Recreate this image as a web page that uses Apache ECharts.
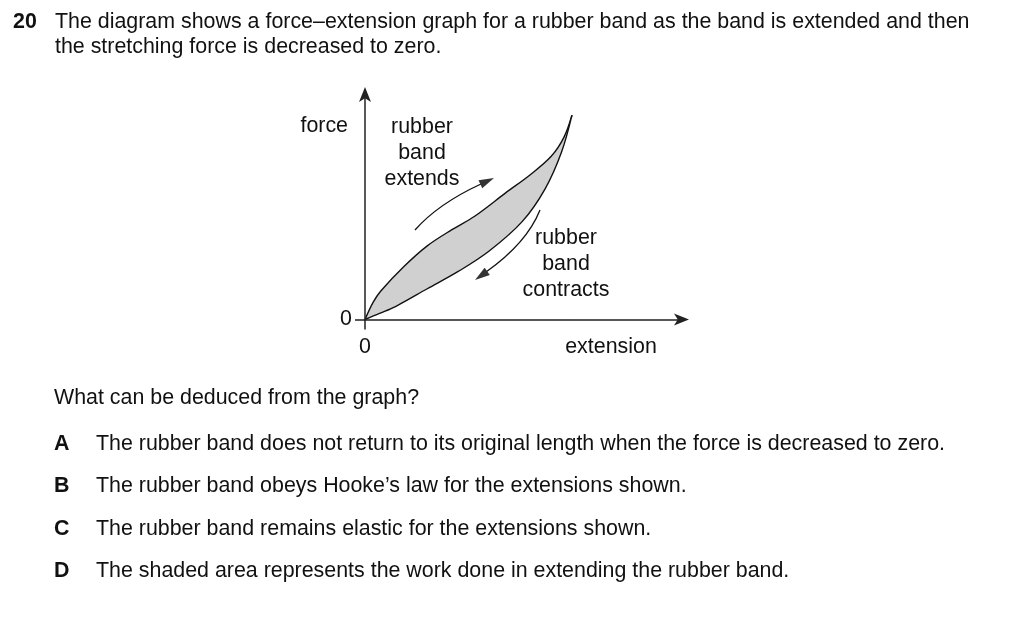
<!DOCTYPE html>
<html>
<head>
<meta charset="utf-8">
<script src="https://cdn.jsdelivr.net/npm/echarts@6/dist/echarts.min.js"></script>
<style>
  html, body { margin: 0; padding: 0; background: #fff; }
  #chart { width: 1024px; height: 618px; }
</style>
</head>
<body>
<div id="chart"></div>
<script>
// ---- data (arbitrary units: extension 0..100, force 0..100) ----
const extendExtension = [0, 2.6, 5.0, 12.4, 19.7, 27.5, 34.7, 44.5, 52.4, 59.0, 62.9, 65.5];
const extendForce     = [0, 7.7, 12.7, 23.7, 32.8, 40.0, 46.0, 56.4, 64.6, 72.8, 81.0, 91.0];
const contractExtension = [0, 4.6, 9.8, 19.7, 29.5, 39.3, 49.8, 57.0, 62.2, 65.5];
const contractForce     = [0, 2.7, 5.9, 13.7, 21.4, 30.5, 43.7, 58.2, 74.6, 91.0];
const axisTickValues = [0];

const questionNumber = '20';
const questionLines = [
  'The diagram shows a force\u2013extension graph for a rubber band as the band is extended and then',
  'the stretching force is decreased to zero.'
];
const prompt = 'What can be deduced from the graph?';
const optionLetters = ['A', 'B', 'C', 'D'];
const optionTexts = [
  'The rubber band does not return to its original length when the force is decreased to zero.',
  'The rubber band obeys Hooke\u2019s law for the extensions shown.',
  'The rubber band remains elastic for the extensions shown.',
  'The shaded area represents the work done in extending the rubber band.'
];
const yAxisName = 'force';
const xAxisName = 'extension';
const extendLabel = ['rubber', 'band', 'extends'];
const contractLabel = ['rubber', 'band', 'contracts'];

// ---- helpers ----
const FONT = '"Liberation Sans", Arial, Helvetica, sans-serif';
const FS = 21.4;
const INK = '#111';
function zip(a, b) { return a.map((v, i) => [v, b[i]]); }
function txt(x, y, s, style) {
  return {
    type: 'text', x: x, y: y, z: 100, silent: true,
    style: Object.assign({ text: s, fill: INK, font: FS + 'px ' + FONT,
      textAlign: 'left', textVerticalAlign: 'middle' }, style || {})
  };
}
function arrowHead(tx, ty, fx, fy, len, half) {
  const dx = tx - fx, dy = ty - fy, n = Math.hypot(dx, dy);
  const ux = dx / n, uy = dy / n, px = -uy, py = ux;
  const bx = tx - ux * len, by = ty - uy * len;
  return { type: 'polygon', z: 100, silent: true,
    shape: { points: [[tx, ty], [bx + px * half, by + py * half], [bx - px * half, by - py * half]] },
    style: { fill: '#333' } };
}
function curve(p0, c1, c2, p3) {
  return { type: 'bezierCurve', z: 100, silent: true,
    shape: { x1: p0[0], y1: p0[1], cpx1: c1[0], cpy1: c1[1], cpx2: c2[0], cpy2: c2[1], x2: p3[0], y2: p3[1] },
    style: { stroke: INK, lineWidth: 1.3, fill: null } };
}

const graphics = [];
graphics.push(txt(13, 22, questionNumber, { font: 'bold ' + FS + 'px ' + FONT }));
questionLines.forEach((l, i) => graphics.push(txt(55, 22 + i * 25, l)));
graphics.push(txt(54, 398, prompt));
optionLetters.forEach((l, i) => {
  const y = 444 + i * 42.4;
  graphics.push(txt(54, y, l, { font: 'bold ' + FS + 'px ' + FONT }));
  graphics.push(txt(96, y, optionTexts[i]));
});
graphics.push(txt(348, 126, yAxisName, { textAlign: 'right' }));
graphics.push(txt(611, 347, xAxisName, { textAlign: 'center' }));
extendLabel.forEach((l, i) => graphics.push(txt(422, 127 + i * 26, l, { textAlign: 'center' })));
contractLabel.forEach((l, i) => graphics.push(txt(566, 238 + i * 26, l, { textAlign: 'center' })));
// direction arrows
graphics.push(curve([415, 230], [430, 213], [455, 196], [481, 184]));
graphics.push(arrowHead(494, 178, 481, 184, 15, 4.5));
graphics.push(curve([540, 210], [530, 235], [510, 255], [486, 272]));
graphics.push(arrowHead(475, 280, 487, 271.5, 15, 4.5));

const axisCommon = {
  type: 'value', min: 0, max: 100, z: 10,
  splitLine: { show: false },
  axisLine: { show: true, onZero: false, lineStyle: { color: '#222', width: 1.5 },
    symbol: ['none', 'arrow'], symbolSize: [9, 15], symbolOffset: [0, 8] },
  axisTick: { show: true, customValues: axisTickValues, length: 10, lineStyle: { color: '#222', width: 1.5 } },
  axisLabel: { show: true, customValues: axisTickValues, color: INK, fontSize: FS, fontFamily: FONT, margin: 14 }
};

const chart = echarts.init(document.getElementById('chart'), null, { renderer: 'canvas' });
chart.setOption({
  animation: false,
  backgroundColor: '#fff',
  grid: { left: 365, top: 95, width: 316, height: 224.5, containLabel: false },
  xAxis: Object.assign({}, axisCommon, { axisLabel: Object.assign({}, axisCommon.axisLabel, { margin: 17 }) }),
  yAxis: Object.assign({}, axisCommon, { axisLabel: Object.assign({}, axisCommon.axisLabel, { margin: 13 }) }),
  series: [
    { type: 'line', data: zip(extendExtension, extendForce), smooth: 0.35, showSymbol: false, z: 2,
      lineStyle: { color: INK, width: 1.4 }, areaStyle: { color: '#d0d0d0', opacity: 1 } },
    { type: 'line', data: zip(contractExtension, contractForce), smooth: 0.35, showSymbol: false, z: 3,
      lineStyle: { color: INK, width: 1.4 }, areaStyle: { color: '#ffffff', opacity: 1 } }
  ],
  graphic: graphics
});
</script>
</body>
</html>
